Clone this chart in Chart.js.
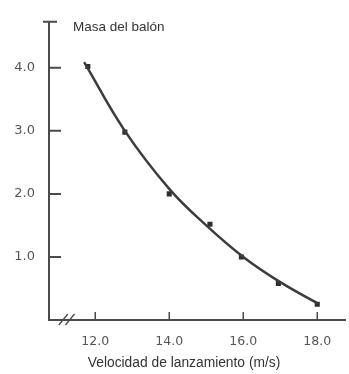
<!DOCTYPE html>
<html>
<head>
<meta charset="utf-8">
<script src="https://cdn.jsdelivr.net/npm/chart.js@4"></script>
<style>
  html, body { margin: 0; padding: 0; background: #fff; }
  #wrap { width: 349px; height: 374px; }
</style>
</head>
<body>
<div id="wrap"><canvas id="grafico" width="349" height="374"></canvas></div>
<script>
// datos
const velocidad = [11.8, 12.8, 14.0, 15.1, 15.95, 16.95, 18.0];
const masa = [4.02, 2.98, 2.0, 1.52, 1.0, 0.58, 0.25];

// curva ajustada (trazada a mano en el original)
const curvaX = [11.7, 12.8, 14.0, 15.0, 16.0, 17.0, 18.02];
const curvaY = [4.09, 3.0, 2.08, 1.5, 1.0, 0.6, 0.26];

const ticksX = [12, 14, 16, 18];
const ticksY = [1, 2, 3, 4];

const tituloY = 'Masa del balón';
const tituloX = 'Velocidad de lanzamiento (m/s)';

const gris = '#4a4a4a';

// marcas interiores, corte del eje y rotulos
const marcasPlugin = {
    id: 'marcas',
    afterDraw(chart) {
        const ctx = chart.ctx;
        const xs = chart.scales.x;
        const ys = chart.scales.y;
        const a = chart.chartArea;
        ctx.save();
        ctx.strokeStyle = gris;
        ctx.lineWidth = 2;
        ctx.beginPath();
        ticksY.forEach(v => {
            const y = ys.getPixelForValue(v);
            ctx.moveTo(a.left, y);
            ctx.lineTo(a.left + 12, y);
        });
        // tope del eje y
        ctx.moveTo(a.left - 6, a.top);
        ctx.lineTo(a.left + 8, a.top);
        ctx.stroke();

        ctx.lineWidth = 1.5;
        ctx.beginPath();
        ticksX.forEach(v => {
            const x = xs.getPixelForValue(v);
            ctx.moveTo(x, a.bottom);
            ctx.lineTo(x, a.bottom - 8);
        });
        ctx.stroke();

        // corte del eje x
        ctx.lineWidth = 1.3;
        ctx.beginPath();
        [11.15, 11.33].forEach(v => {
            const x = xs.getPixelForValue(v);
            ctx.moveTo(x - 5, a.bottom + 5);
            ctx.lineTo(x + 4, a.bottom - 6);
        });
        ctx.stroke();

        ctx.fillStyle = '#333';
        ctx.textBaseline = 'middle';
        ctx.textAlign = 'left';
        ctx.font = '13.5px "Liberation Sans", Arial, sans-serif';
        ctx.fillText(tituloY, a.left + 24, a.top + 5);
        ctx.textAlign = 'center';
        ctx.font = '13.8px "Liberation Sans", Arial, sans-serif';
        ctx.fillText(tituloX, xs.getPixelForValue(14.4), a.bottom + 43);
        ctx.restore();
    }
};

new Chart(document.getElementById('grafico'), {
    type: 'scatter',
    data: {
        datasets: [
            {
                type: 'line',
                data: curvaX.map((x, i) => ({ x: x, y: curvaY[i] })),
                borderColor: '#3c3c3c',
                borderWidth: 2.5,
                pointRadius: 0,
                fill: false,
                tension: 0.4
            },
            {
                data: velocidad.map((x, i) => ({ x: x, y: masa[i] })),
                backgroundColor: '#2e2e2e',
                borderColor: '#2e2e2e',
                pointStyle: 'rect',
                pointRadius: 3.6,
                borderWidth: 0
            }
        ]
    },
    options: {
        responsive: false,
        animation: false,
        layout: { padding: { top: 17, right: 0, left: 0, bottom: 0 } },
        plugins: {
            legend: { display: false },
            tooltip: { enabled: false }
        },
        scales: {
            x: {
                type: 'linear',
                min: 10.75,
                max: 18.75,
                afterBuildTicks: s => { s.ticks = ticksX.map(v => ({ value: v })); },
                afterFit: s => { s.height = 54; },
                grid: { display: false, drawTicks: false },
                border: { display: true, color: gris, width: 2 },
                ticks: {
                    padding: 14,
                    color: '#555',
                    font: { family: 'DejaVu Sans', size: 12.5 },
                    callback: v => v.toFixed(1)
                }
            },
            y: {
                type: 'linear',
                min: 0,
                max: 4.73,
                afterBuildTicks: s => { s.ticks = ticksY.map(v => ({ value: v })); },
                afterFit: s => { s.width = 49; },
                grid: { display: false, drawTicks: false },
                border: { display: true, color: gris, width: 2 },
                ticks: {
                    padding: 14,
                    color: '#555',
                    font: { family: 'DejaVu Sans', size: 13 },
                    callback: v => v.toFixed(1)
                }
            }
        }
    },
    plugins: [marcasPlugin]
});
</script>
</body>
</html>
